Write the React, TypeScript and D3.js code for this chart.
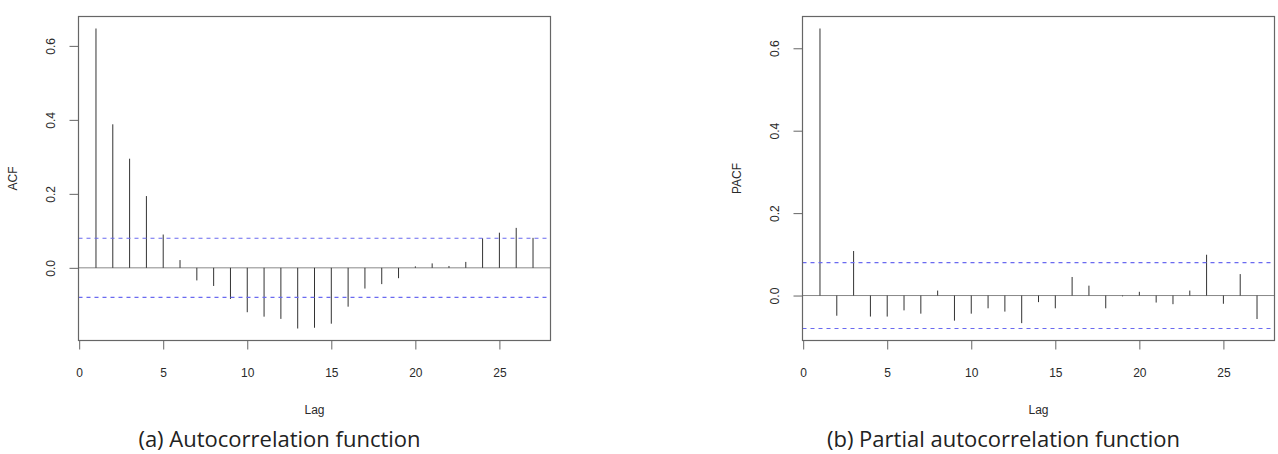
import React, { useEffect, useRef } from "react";
import * as d3 from "d3";

// lags 1..27, sample autocorrelations and partial autocorrelations
const lags = d3.range(1, 28);
const acfValues = [
  0.647, 0.388, 0.295, 0.194, 0.09, 0.021, -0.034, -0.049, -0.084, -0.12,
  -0.132, -0.138, -0.164, -0.162, -0.151, -0.105, -0.056, -0.044, -0.028,
  0.004, 0.012, 0.005, 0.016, 0.08, 0.095, 0.108, 0.081,
];
const pacfValues = [
  0.648, -0.049, 0.108, -0.051, -0.051, -0.036, -0.044, 0.012, -0.061, -0.044,
  -0.031, -0.039, -0.067, -0.016, -0.031, 0.045, 0.024, -0.031, -0.002, 0.009,
  -0.017, -0.021, 0.012, 0.099, -0.02, 0.052, -0.057,
];
const ciBound = 0.08; // 95% white-noise band
const xTicks = [0, 5, 10, 15, 20, 25];
const yTicks = [0, 0.2, 0.4, 0.6];
const yLabels = ["ACF", "PACF"];
const captions = ["(a) Autocorrelation function", "(b) Partial autocorrelation function"];

const W = 1278, H = 454;
const PANEL_SHIFT = 724;
const left = 78.5, top = 16.5, plotW = 472, plotH = 324;
const axisFont = "'Liberation Sans', Arial, sans-serif";

// R-style axis limits: data range widened by 4% on each side
const padRange = (lo: number, hi: number): [number, number] => {
  const e = (hi - lo) * 0.04;
  return [lo - e, hi + e];
};

const App: React.FC = () => {
  const ref = useRef<SVGSVGElement>(null);

  useEffect(() => {
    const svg = d3.select(ref.current);
    svg.selectAll("*").remove();

    [acfValues, pacfValues].forEach((values, i) => {
      const g = svg.append("g").attr("transform", `translate(${i * PANEL_SHIFT},0)`);

      const x = d3.scaleLinear().domain(padRange(d3.min(lags)!, d3.max(lags)!)).range([left, left + plotW]);
      const lo = Math.min(d3.min(values)!, -ciBound);
      const hi = Math.max(d3.max(values)!, ciBound);
      const y = d3.scaleLinear().domain(padRange(lo, hi)).range([top + plotH, top]);

      // zero line
      g.append("line")
        .attr("x1", left).attr("x2", left + plotW)
        .attr("y1", y(0)).attr("y2", y(0))
        .attr("stroke", "#888").attr("stroke-width", 1);

      // spikes
      g.append("g")
        .selectAll("line")
        .data(lags)
        .join("line")
        .attr("x1", (d) => x(d)).attr("x2", (d) => x(d))
        .attr("y1", y(0))
        .attr("y2", (_, k) => y(values[k]))
        .attr("stroke", "#333").attr("stroke-width", 1);

      // confidence band
      g.append("g")
        .selectAll("line")
        .data([ciBound, -ciBound])
        .join("line")
        .attr("x1", left).attr("x2", left + plotW)
        .attr("y1", (d) => y(d)).attr("y2", (d) => y(d))
        .attr("stroke", "#6a6af0").attr("stroke-width", 1.2)
        .attr("stroke-dasharray", "4,4");

      // frame
      g.append("rect")
        .attr("x", left).attr("y", top)
        .attr("width", plotW).attr("height", plotH)
        .attr("fill", "none").attr("stroke", "#666").attr("stroke-width", 1.2);

      // y axis with rotated labels
      const ya = g.append("g")
        .attr("transform", `translate(${left},0)`)
        .call(d3.axisLeft(y).tickValues(yTicks).tickSize(9).tickFormat(d3.format(".1f")));
      ya.select(".domain").remove();
      ya.attr("color", "#666").attr("font-family", axisFont).attr("font-size", 12);
      ya.selectAll("text")
        .attr("fill", "#2a2a2a")
        .attr("x", 0).attr("y", -24).attr("dy", 0)
        .attr("text-anchor", "middle")
        .attr("transform", "rotate(-90)");

      // x axis
      const xa = g.append("g")
        .attr("transform", `translate(0,${top + plotH})`)
        .call(d3.axisBottom(x).tickValues(xTicks).tickSize(9));
      xa.select(".domain").remove();
      xa.attr("color", "#666").attr("font-family", axisFont).attr("font-size", 12);
      xa.selectAll("text").attr("fill", "#2a2a2a").attr("y", 27.5);

      g.append("text")
        .attr("x", left + plotW / 2).attr("y", 414)
        .attr("text-anchor", "middle")
        .attr("font-family", axisFont).attr("font-size", 12).attr("fill", "#2a2a2a")
        .text("Lag");

      g.append("text")
        .attr("transform", `translate(16.5,${top + plotH / 2}) rotate(-90)`)
        .attr("text-anchor", "middle")
        .attr("font-family", axisFont).attr("font-size", 12).attr("fill", "#2a2a2a")
        .text(yLabels[i]);

      g.append("text")
        .attr("x", 279.5).attr("y", 446.5)
        .attr("text-anchor", "middle")
        .attr("font-family", "'Open Sans', 'Noto Sans', sans-serif")
        .attr("font-size", 22).attr("fill", "#222")
        .text(captions[i]);
    });
  }, []);

  return (
    <div style={{ position: "absolute", left: 0, top: 0, width: W, height: H, background: "#fff" }}>
      <svg ref={ref} width={W} height={H} style={{ display: "block" }} />
    </div>
  );
};

export default App;
